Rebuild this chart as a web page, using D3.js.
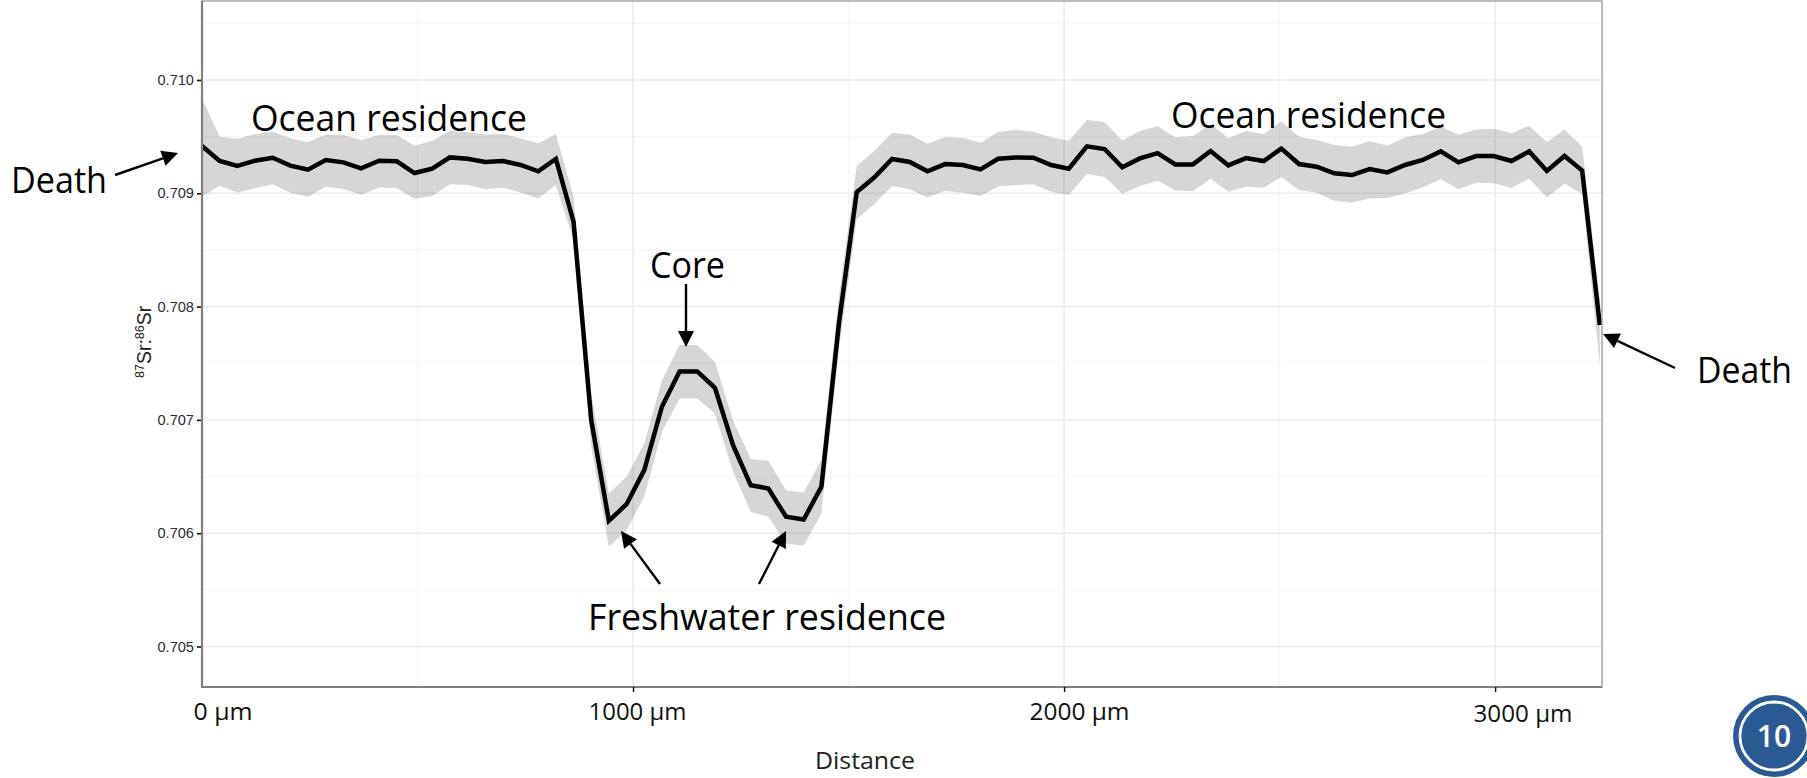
<!DOCTYPE html>
<html>
<head>
<meta charset="utf-8">
<script src="https://cdnjs.cloudflare.com/ajax/libs/d3/7.8.5/d3.min.js"></script>
<style>
html,body{margin:0;padding:0;background:#fff;overflow:hidden}
svg{display:block}
</style>
</head>
<body>
<svg id="chart" width="1807" height="778"></svg>
<script>
const distance = [0,41,82,123,164,205,246,287,328,369,411,452,493,534,575,616,657,698,739,780,821,862,903,944,985,1026,1067,1108,1149,1190,1232,1273,1314,1355,1396,1437,1478,1519,1560,1601,1642,1683,1724,1765,1806,1847,1888,1929,1970,2011,2053,2094,2135,2176,2217,2258,2299,2340,2381,2422,2463,2504,2545,2586,2627,2668,2709,2750,2791,2832,2874,2915,2956,2997,3038,3079,3120,3161,3202,3243];

const ratio = [0.709417,0.709285,0.709241,0.709288,0.709314,0.709244,0.709208,0.709294,0.709273,0.709220,
0.709288,0.709282,0.709179,0.709217,0.709317,0.709305,0.709276,0.709285,0.709250,0.709194,
0.709303,0.708749,0.706998,0.706109,0.706256,0.706557,0.707116,0.707428,0.707428,0.707284,
0.706777,0.706424,0.706395,0.706145,0.706121,0.706410,0.707863,0.709011,0.709141,0.709303,
0.709276,0.709194,0.709258,0.709250,0.709211,0.709305,0.709317,0.709314,0.709250,0.709217,
0.709414,0.709391,0.709229,0.709308,0.709355,0.709255,0.709255,0.709373,0.709247,0.709311,
0.709285,0.709394,0.709258,0.709235,0.709176,0.709161,0.709214,0.709185,0.709250,0.709294,
0.709370,0.709273,0.709329,0.709329,0.709285,0.709370,0.709197,0.709329,0.709200,0.707837];

const upperBand = [0.709838,0.709500,0.709479,0.709523,0.709544,0.709485,0.709453,0.709520,0.709514,0.709470,
0.709514,0.709514,0.709420,0.709464,0.709550,0.709538,0.709520,0.709523,0.709485,0.709441,
0.709523,0.708970,0.707234,0.706351,0.706498,0.706792,0.707351,0.707660,0.707660,0.707513,
0.706998,0.706654,0.706639,0.706380,0.706359,0.706645,0.708102,0.709241,0.709376,0.709535,
0.709520,0.709438,0.709497,0.709491,0.709447,0.709541,0.709559,0.709544,0.709494,0.709464,
0.709647,0.709629,0.709467,0.709550,0.709594,0.709494,0.709506,0.709612,0.709488,0.709550,
0.709523,0.709635,0.709500,0.709470,0.709426,0.709411,0.709461,0.709420,0.709494,0.709523,
0.709588,0.709520,0.709564,0.709570,0.709529,0.709597,0.709453,0.709564,0.709411,0.708058];

const lowerBand = [0.708970,0.709067,0.709008,0.709044,0.709079,0.709005,0.708970,0.709058,0.709038,0.708988,
0.709052,0.709044,0.708952,0.708976,0.709079,0.709073,0.709035,0.709049,0.709008,0.708955,
0.709073,0.708587,0.706763,0.705880,0.706027,0.706321,0.706895,0.707189,0.707189,0.707057,
0.706542,0.706189,0.706145,0.705909,0.705889,0.706174,0.707631,0.708770,0.708905,0.709064,
0.709035,0.708964,0.709023,0.709005,0.708976,0.709061,0.709073,0.709079,0.709014,0.708985,
0.709170,0.709144,0.708999,0.709064,0.709111,0.709026,0.709017,0.709129,0.709014,0.709058,
0.709049,0.709144,0.709029,0.709005,0.708935,0.708917,0.708955,0.708958,0.708999,0.709052,
0.709123,0.709035,0.709094,0.709088,0.709046,0.709129,0.708964,0.709085,0.708994,0.707484];

const yTicks = [0.705,0.706,0.707,0.708,0.709,0.710];
const yMinor = [0.7055,0.7065,0.7075,0.7085,0.7095,0.7105];
const xTicks = [0,1000,2000,3000];
const xMinor = [500,1500,2500];
const xTickLabels = ["0 µm","1000 µm","2000 µm","3000 µm"];

// Placed annotation text and arrows, in page pixels
const notes = [
  {text:"Death", x:11, y:193, w:96},
  {text:"Ocean residence", x:251, y:131, w:276},
  {text:"Ocean residence", x:1171, y:128, w:275},
  {text:"Core", x:650, y:278, w:75},
  {text:"Freshwater residence", x:588, y:630, w:358},
  {text:"Death", x:1697, y:383, w:95}
];
const arrows = [
  [115,175,178,153],
  [686,284,686,347],
  [660,584,621,531],
  [759,584,786,531],
  [1675,368,1603,334]
];
const xLabelPos = [
  {x:193,y:720,w:59},
  {x:588,y:720,w:98},
  {x:1029,y:720,w:100},
  {x:1473,y:722,w:99}
];

const panel = {left:202, right:1602, top:1, bottom:687};
const svg = d3.select("#chart");
const x = d3.scaleLinear().domain([0,3248]).range([panel.left,panel.left+1400]);
const y = d3.scaleLinear().domain([0.705,0.710]).range([646.5,80]);

const grid = svg.append("g");
grid.selectAll(".ymin").data(yMinor).join("line")
  .attr("x1",panel.left).attr("x2",panel.right).attr("y1",d=>y(d)).attr("y2",d=>y(d))
  .attr("stroke","#f6f6f6").attr("stroke-width",1.2);
grid.selectAll(".xmin").data(xMinor).join("line")
  .attr("y1",panel.top).attr("y2",panel.bottom).attr("x1",d=>x(d)).attr("x2",d=>x(d))
  .attr("stroke","#f6f6f6").attr("stroke-width",1.2);
grid.selectAll(".ymaj").data(yTicks).join("line")
  .attr("x1",panel.left).attr("x2",panel.right).attr("y1",d=>y(d)).attr("y2",d=>y(d))
  .attr("stroke","#ebebeb").attr("stroke-width",1.5);
grid.selectAll(".xmaj").data(xTicks).join("line")
  .attr("y1",panel.top).attr("y2",panel.bottom).attr("x1",d=>x(d)).attr("x2",d=>x(d))
  .attr("stroke","#ebebeb").attr("stroke-width",1.5);

const rows = distance.map((d,i)=>({d,v:ratio[i],hi:upperBand[i],lo:lowerBand[i]}));
svg.append("path").datum(rows)
  .attr("d",d3.area().x(r=>x(r.d)).y0(r=>y(r.lo)).y1(r=>y(r.hi)))
  .attr("fill","#333").attr("fill-opacity",0.2);
svg.append("path").datum(rows)
  .attr("d",d3.line().x(r=>x(r.d)).y(r=>y(r.v)))
  .attr("fill","none").attr("stroke","#000").attr("stroke-width",4.5).attr("stroke-linejoin","miter");

// panel border
svg.append("rect").attr("x",panel.left).attr("y",panel.top)
  .attr("width",panel.right-panel.left).attr("height",panel.bottom-panel.top)
  .attr("fill","none").attr("stroke","#999").attr("stroke-width",1.3);
svg.append("line").attr("x1",panel.left).attr("x2",panel.left).attr("y1",panel.top).attr("y2",panel.bottom)
  .attr("stroke","#7f7f7f").attr("stroke-width",2.2);
svg.append("line").attr("x1",panel.left-1).attr("x2",panel.right).attr("y1",panel.bottom).attr("y2",panel.bottom)
  .attr("stroke","#7f7f7f").attr("stroke-width",2.2);

// y axis
const yAxis = svg.append("g").attr("transform",`translate(${panel.left-1},0)`)
  .call(d3.axisLeft(y).tickValues(yTicks).tickFormat(d3.format(".3f")).tickSize(4).tickPadding(3));
yAxis.select(".domain").remove();
yAxis.selectAll(".tick line").attr("stroke","#111").attr("stroke-width",1.6);
yAxis.selectAll(".tick text").attr("font-family","'Liberation Sans',Arial,sans-serif")
  .attr("font-size",14.6).attr("fill","#2b2b3a");

// x axis ticks, labels sit where the reference pasted them
const xAxis = svg.append("g").attr("transform",`translate(0,${panel.bottom})`)
  .call(d3.axisBottom(x).tickValues(xTicks).tickFormat((d,i)=>xTickLabels[i]).tickSize(5));
xAxis.select(".domain").remove();
xAxis.selectAll(".tick line").attr("stroke","#111").attr("stroke-width",1.4)
  .attr("stroke-opacity",d=>d===0?0:1);
xAxis.selectAll(".tick").each(function(d,i){
  const p = xLabelPos[i];
  d3.select(this).select("text")
    .attr("text-anchor","start").attr("dy",null)
    .attr("x",p.x-x(d)).attr("y",p.y-panel.bottom)
    .attr("font-family","'Open Sans',sans-serif").attr("font-size",24).attr("fill","#111")
    .attr("textLength",p.w).attr("lengthAdjust","spacingAndGlyphs");
});

// y title
const yt = svg.append("text").attr("transform","translate(151,378) rotate(-90)")
  .attr("font-family","'Liberation Sans',Arial,sans-serif").attr("font-size",19.5).attr("fill","#222");
yt.append("tspan").attr("font-size",12.5).attr("dy",-7).text("87");
yt.append("tspan").attr("dy",7).text("Sr:");
yt.append("tspan").attr("font-size",12.5).attr("dy",-7).text("86");
yt.append("tspan").attr("dy",7).text("Sr");

// x title
svg.append("text").attr("x",815).attr("y",769).text("Distance")
  .attr("font-family","'Open Sans',sans-serif").attr("font-size",24).attr("fill","#222")
  .attr("textLength",100).attr("lengthAdjust","spacingAndGlyphs");

// annotations
svg.selectAll(".note").data(notes).join("text")
  .attr("x",d=>d.x).attr("y",d=>d.y).text(d=>d.text)
  .attr("font-family","'Open Sans',sans-serif").attr("font-size",37).attr("fill","#000")
  .attr("textLength",d=>d.w).attr("lengthAdjust","spacingAndGlyphs");

const arrowG = svg.append("g");
arrows.forEach(a=>{
  const [x1,y1,x2,y2] = a;
  const ang = Math.atan2(y2-y1,x2-x1), L=16, W=8;
  const bx = x2-L*Math.cos(ang), by = y2-L*Math.sin(ang);
  arrowG.append("line").attr("x1",x1).attr("y1",y1).attr("x2",bx).attr("y2",by)
    .attr("stroke","#000").attr("stroke-width",2.4);
  arrowG.append("polygon").attr("fill","#000").attr("points",[
    [x2,y2],
    [bx-W*Math.sin(ang),by+W*Math.cos(ang)],
    [bx+W*Math.sin(ang),by-W*Math.cos(ang)]
  ].join(" "));
});

// page number badge
const badge = svg.append("g").attr("transform","translate(1774,736)");
badge.append("circle").attr("r",41).attr("fill","#2a5a94");
badge.append("circle").attr("r",34).attr("fill","#2a5a94").attr("stroke","#fff").attr("stroke-width",2.8);
badge.append("text").attr("text-anchor","middle").attr("y",11).text("10")
  .attr("font-family","'Open Sans',sans-serif").attr("font-weight",600).attr("font-size",30).attr("fill","#fff");
</script>
</body>
</html>
